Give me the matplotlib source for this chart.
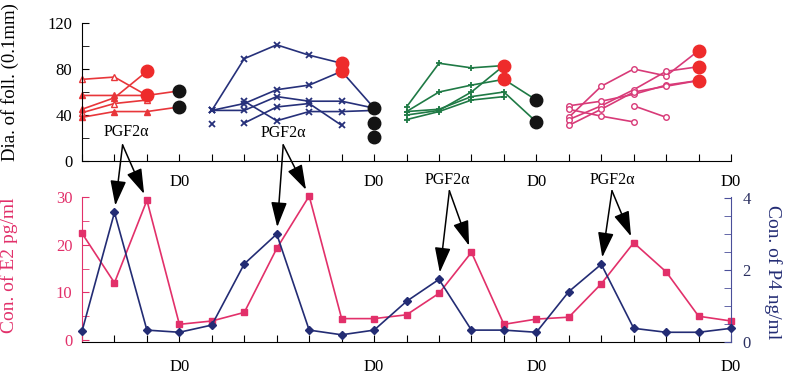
import numpy as np
import matplotlib
matplotlib.use("Agg")
import matplotlib.pyplot as plt
from matplotlib.ticker import MultipleLocator

plt.rcParams['font.family'] = ['Liberation Serif', 'DejaVu Serif']

# hormone profiles, one value per day
days = np.arange(21)
e2 = [22.4, 12.0, 29.3, 3.3, 4.0, 5.8, 19.2, 30.2, 4.5, 4.5, 5.3,
      9.8, 18.4, 3.3, 4.4, 4.8, 11.8, 20.4, 14.3, 5.0, 4.0]
p4 = [0.3, 3.6, 0.33, 0.27, 0.47, 2.17, 3.0, 0.33, 0.2, 0.33, 1.13,
      1.74, 0.33, 0.33, 0.27, 1.4, 2.16, 0.38, 0.27, 0.27, 0.38]
d0_days = [3, 9, 14, 20]
p4_peak_days = [1, 6, 11, 16]
e2_peak_days = [2, 7, 12, 17]

# follicle diameters (0.1 mm): (first day, values)
foll_1 = [(0, [71, 73, 57]), (0, [57, 57, 57, 61]), (0, [45, 55, 78]),
          (0, [42, 50, 53]), (0, [38, 43, 43, 47])]
foll_2 = [(4, [44, 89, 101, 92, 85]), (4, [44, 50, 62, 66, 78, 46]),
          (4, [44, 44, 56, 52, 52, 46]), (5, [52, 35, 43, 43, 44]),
          (5, [33, 47, 50, 31]), (4, [32])]
foll_3 = [(10, [47, 85, 81, 83]), (10, [43, 60, 66, 71, 53]),
          (10, [40, 44, 60, 83]), (10, [43, 45, 56, 60, 34]),
          (10, [36, 43, 53, 56])]
foll_4 = [(15, [38, 65, 80, 74, 96]), (15, [36, 48, 62, 78, 82]),
          (15, [48, 52, 58, 66, 70]), (15, [45, 39, 34]),
          (17, [48, 38]), (15, [31, 45, 60, 65, 70])]
# ovulatory (red) and end-of-cycle (black) follicles: (day, values)
red_foll = [(2, [78, 57]), (8, [85, 78]), (13, [83, 71]), (19, [96, 82, 70])]
black_foll = [(3, [61, 47]), (9, [46, 33, 21]), (14, [53, 34])]

RED = '#e8363a'
NAVY = '#26307a'
GREEN = '#1f7a45'
PINK = '#d83a78'
E2C = '#e2306a'
P4C = '#232c74'

fig = plt.figure(figsize=(8.08, 3.74), dpi=100)
ax_top = fig.add_axes([0.1015, 0.5695, 0.8033, 0.369])
ax_bot = fig.add_axes([0.1015, 0.0856, 0.8033, 0.3877])
ax_r = ax_bot.twinx()

# ---- top panel: follicle diameters
styles = [(foll_1, RED, dict(marker='^', ms=5)),
          (foll_2, NAVY, dict(marker='x', ms=5, mew=1.3)),
          (foll_3, GREEN, dict(marker='+', ms=5, mew=1.3)),
          (foll_4, PINK, dict(marker='o', ms=4, mfc='white', mew=1))]
for group, col, kw in styles:
    for i, (start, vals) in enumerate(group):
        x = np.arange(start, start + len(vals))
        extra = {}
        if group is foll_1 and i in (0, 3):
            extra = dict(mfc='white')
        ax_top.plot(x, vals, color=col, lw=1.2, clip_on=False, **kw, **extra)

for d, vals in red_foll:
    ax_top.plot([d] * len(vals), vals, 'o', color='#ee2b2b', ms=9, clip_on=False, zorder=5)
for d, vals in black_foll:
    ax_top.plot([d] * len(vals), vals, 'o', color='#141414', ms=9, clip_on=False, zorder=5)

ax_top.set_xlim(0, 20)
ax_top.set_ylim(0, 120)
ax_top.spines[['top', 'right']].set_visible(False)
ax_top.set_xticks(days)
ax_top.set_xticklabels(['D0' if d in d0_days else '' for d in days], fontsize=12.5)
ax_top.set_yticks([0, 40, 80, 120])
ax_top.yaxis.set_minor_locator(MultipleLocator(20))
ax_top.tick_params(direction='in', which='both', length=5, labelsize=12)
ax_top.tick_params(axis='x', pad=9)
ax_top.tick_params(axis='y', pad=7)
ax_top.set_ylabel('Dia. of foll. (0.1mm)', fontsize=13.5)
ax_top.yaxis.set_label_coords(-0.097, 0.57)

# ---- bottom panel: E2 (left) and P4 (right)
ax_bot.plot(days, e2, color=E2C, marker='s', ms=5, lw=1.2, clip_on=False, zorder=3)
ax_r.plot(days, p4, color=P4C, marker='D', ms=4.5, lw=1.2, clip_on=False, zorder=3)

ax_bot.set_xlim(0, 20)
ax_bot.set_ylim(-0.4, 30)
ax_r.set_ylim(0, 4.03)
ax_bot.spines['top'].set_visible(False)
ax_bot.spines['right'].set_visible(False)
ax_bot.spines['left'].set_color(E2C)
ax_r.spines[['top', 'left', 'bottom']].set_visible(False)
ax_r.spines['right'].set_color('#4a4f9a')

ax_bot.set_xticks(days)
ax_bot.set_xticklabels(['D0' if d in d0_days else '' for d in days], fontsize=12.5)
ax_bot.set_yticks([0, 10, 20, 30])
ax_bot.yaxis.set_minor_locator(MultipleLocator(5))
ax_bot.tick_params(direction='in', which='both', length=5, labelsize=12)
ax_bot.tick_params(axis='x', pad=12)
ax_bot.tick_params(axis='y', which='both', colors=E2C, pad=7)
ax_r.set_yticks([0, 2, 4])
ax_r.yaxis.set_minor_locator(MultipleLocator(0.5))
ax_r.tick_params(direction='in', which='both', length=5, labelsize=12,
                 color='#4a4f9a', labelcolor='#2a2f60', pad=8)

ax_bot.set_ylabel('Con. of E2 pg/ml', fontsize=14, color=E2C)
ax_bot.yaxis.set_label_coords(-0.099, 0.53)
ax_r.set_ylabel('Con. of P4 ng/ml', fontsize=14, color=P4C, rotation=-90)
ax_r.yaxis.set_label_coords(1.079, 0.48)

# top row of D0 labels just under the bottom panel handled by ticks above
# ---- PGF2a injections
arrow = dict(arrowstyle='-|>,head_length=1.1,head_width=0.35', color='black',
             lw=1.1, mutation_scale=14, shrinkA=0, shrinkB=5)
text_pos = [(ax_top, 1.38, 25), (ax_top, 6.2, 24),
            (ax_bot, 11.25, 33.5), (ax_bot, 16.35, 33.5)]
start_pos = [(ax_top, 1.25, 14), (ax_top, 6.2, 14),
             (ax_bot, 11.32, 31.3), (ax_bot, 16.33, 31.3)]
for (tax, tx, ty), (sax, sx, sy), dp, de in zip(text_pos, start_pos,
                                                  p4_peak_days, e2_peak_days):
    tax.text(tx, ty, 'PGF2\u03b1', fontsize=11.5, ha='center', va='center',
             clip_on=False)
    ax_r.annotate('', xy=(dp, p4[dp]), xycoords=ax_r.transData,
                  xytext=(sx, sy), textcoords=sax.transData,
                  arrowprops=arrow, annotation_clip=False)
    ax_bot.annotate('', xy=(de, e2[de]), xycoords=ax_bot.transData,
                    xytext=(sx, sy), textcoords=sax.transData,
                    arrowprops=arrow, annotation_clip=False)

fig.savefig('out.png', dpi=100)
